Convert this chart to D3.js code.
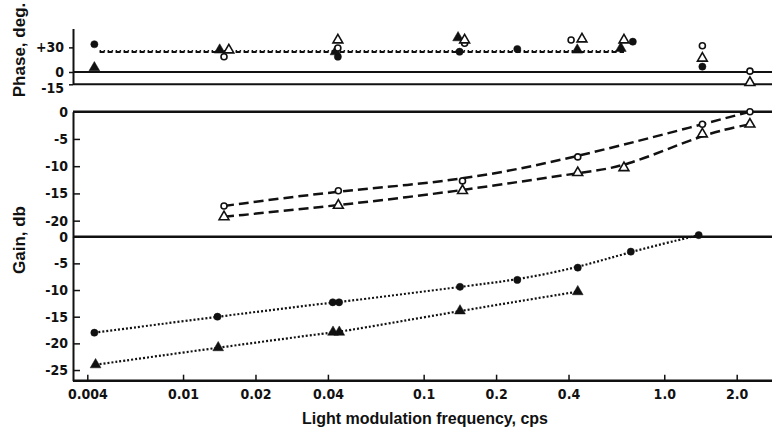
<!DOCTYPE html>
<html>
<head>
<meta charset="utf-8">
<script src="https://cdn.jsdelivr.net/npm/d3@7"></script>
<style>
  body { margin: 0; background: #fff; }
  svg { display: block; }
  .tick text { font-family: "Liberation Sans Narrow", "DejaVu Sans Condensed", sans-serif; font-weight: bold; font-size: 14px; fill: #111; }
  .title { font-family: "Liberation Sans", "DejaVu Sans", sans-serif; font-weight: bold; fill: #111; }
</style>
</head>
<body>
<div id="chart"></div>
<script>
var width = 772;
var height = 443;
var margin = {left: 73, right: 0};

// x axis
var freqTicks = [0.004, 0.01, 0.02, 0.04, 0.1, 0.2, 0.4, 1.0, 2.0];
var freqTickLabels = ["0.004", "0.01", "0.02", "0.04", "0.1", "0.2", "0.4", "1.0", "2.0"];

// phase panel
var phaseTicks = [30, 0, -15];
var phaseTickLabels = ["+30", "0", "-15"];
var phaseFilledCircleFreq = [0.00428, 0.044, 0.141, 0.245, 0.74, 1.44];
var phaseFilledCircleDeg = [33.8, 18.6, 24.7, 28, 36.9, 6.5];
var phaseFilledTriFreq = [0.00428, 0.0142, 0.043, 0.139, 0.435, 0.66];
var phaseFilledTriDeg = [5.2, 26.8, 24.7, 41.8, 26.8, 28.9];
var phaseOpenCircleFreq = [0.0148, 0.044, 0.148, 0.41, 1.44, 2.27];
var phaseOpenCircleDeg = [18.6, 29.2, 35, 39, 32, 1];
var phaseOpenTriFreq = [0.0155, 0.044, 0.148, 0.455, 0.68, 1.44, 2.27];
var phaseOpenTriDeg = [26.8, 39, 39, 40.2, 39, 16.7, -13];
var phaseMeanFreq = [0.0045, 0.68];
var phaseMeanDashed = [24.5, 24.5];
var phaseMeanDotted = [26, 26];

// gain panel, open symbols
var gainTicksUpper = [0, -5, -10, -15, -20];
var gainTickLabelsUpper = ["0", "-5", "-10", "-15", "-20"];
var gainOpenCircleFreq = [0.0148, 0.0442, 0.145, 0.437, 1.44, 2.27];
var gainOpenCircleDb = [-17.3, -14.5, -12.7, -8.3, -2.3, 0];
var gainOpenTriFreq = [0.0148, 0.0442, 0.145, 0.437, 0.68, 1.44, 2.27];
var gainOpenTriDb = [-19.3, -17.2, -14.5, -11.2, -10.3, -4.1, -2.3];

// gain panel, filled symbols
var gainTicksLower = [0, -5, -10, -15, -20, -25];
var gainTickLabelsLower = ["0", "-5", "-10", "-15", "-20", "-25"];
var gainFilledCircleFreq = [0.00428, 0.0139, 0.0419, 0.0445, 0.1416, 0.245, 0.437, 0.726, 1.39];
var gainFilledCircleDb = [-18.0, -15.0, -12.3, -12.3, -9.4, -8.1, -5.8, -2.8, 0.3];
var gainFilledTriFreq = [0.00433, 0.0140, 0.042, 0.0446, 0.1416, 0.437];
var gainFilledTriDb = [-24.0, -20.8, -17.9, -17.9, -13.9, -10.3];

var ink = "#111";

var svg = d3.select("#chart")
  .append("svg")
  .attr("width", width)
  .attr("height", height);

var x = d3.scaleLog().domain([0.004, 2.0]).range([87.3, 736.7]);
var yPhase = d3.scaleLinear().domain([-15, 53]).range([84.3, 28.5]);
var yUpper = d3.scaleLinear().domain([-23, 0]).range([237, 111.7]);
var yLower = d3.scaleLinear().domain([-27, 0]).range([380.7, 236.7]);

function zip(xs, ys) {
  return xs.map(function(v, i) { return [v, ys[i]]; });
}

function hline(y, w) {
  svg.append("line")
    .attr("x1", margin.left).attr("x2", width)
    .attr("y1", y).attr("y2", y)
    .attr("stroke", ink).attr("stroke-width", w || 2);
}

function yAxis(scale, ticks, labels, size) {
  var g = svg.append("g")
    .attr("transform", "translate(" + margin.left + ",0)")
    .call(d3.axisLeft(scale)
      .tickValues(ticks)
      .tickSizeInner(size)
      .tickSizeOuter(0)
      .tickPadding(5)
      .tickFormat(function(d, i) { return labels[i]; }));
  g.select(".domain").attr("stroke", ink).attr("stroke-width", 2);
  g.selectAll(".tick line").attr("stroke", ink).attr("stroke-width", 1.5);
  return g;
}

// panel frames
hline(yPhase(0));
hline(yPhase(-15));
hline(yUpper(0), 2.5);
hline(yLower(0), 2.5);
hline(yLower(-27), 2.5);

var gp = yAxis(yPhase, phaseTicks, phaseTickLabels, 4);
gp.selectAll(".tick text").attr("dy", function(d) { return d === -15 ? "0.6em" : "0.32em"; });
yAxis(yUpper, gainTicksUpper, gainTickLabelsUpper, -7);
yAxis(yLower, gainTicksLower, gainTickLabelsLower, -7);

// x axis
var gx = svg.append("g")
  .attr("transform", "translate(0," + yLower(-27) + ")")
  .call(d3.axisBottom(x)
    .tickValues(freqTicks)
    .tickSizeInner(-6)
    .tickSizeOuter(0)
    .tickPadding(8)
    .tickFormat(function(d, i) { return freqTickLabels[i]; }));
gx.select(".domain").remove();
gx.selectAll(".tick line").attr("stroke", ink).attr("stroke-width", 1.5);

// lines
function drawLine(xs, ys, yScale, dash, w, curve) {
  var line = d3.line()
    .x(function(d) { return x(d[0]); })
    .y(function(d) { return yScale(d[1]); })
    .curve(curve || d3.curveLinear);
  svg.append("path")
    .datum(zip(xs, ys))
    .attr("d", line)
    .attr("fill", "none")
    .attr("stroke", ink)
    .attr("stroke-width", w)
    .attr("stroke-dasharray", dash);
}

drawLine(phaseMeanFreq, phaseMeanDashed, yPhase, "5,3", 2);
drawLine(phaseMeanFreq, phaseMeanDotted, yPhase, "1.5,2.5", 1.5);

drawLine(gainOpenCircleFreq, gainOpenCircleDb, yUpper, "10,5", 2.5, d3.curveBasis);
drawLine(gainOpenTriFreq, gainOpenTriDb, yUpper, "10,5", 2.5, d3.curveBasis);

drawLine(gainFilledCircleFreq, gainFilledCircleDb, yLower, "2,2", 2.2, d3.curveBasis);
drawLine(gainFilledTriFreq, gainFilledTriDb, yLower, "2,2", 2.2, d3.curveBasis);

// markers
var tri = d3.symbol().type(d3.symbolTriangle);

function circles(xs, ys, yScale, filled) {
  svg.append("g").selectAll("circle")
    .data(zip(xs, ys))
    .join("circle")
    .attr("cx", function(d) { return x(d[0]); })
    .attr("cy", function(d) { return yScale(d[1]); })
    .attr("r", filled ? 3.6 : 3)
    .attr("fill", filled ? ink : "#fff")
    .attr("stroke", ink)
    .attr("stroke-width", filled ? 0.5 : 1.6);
}

function triangles(xs, ys, yScale, filled) {
  svg.append("g").selectAll("path")
    .data(zip(xs, ys))
    .join("path")
    .attr("transform", function(d) { return "translate(" + x(d[0]) + "," + yScale(d[1]) + ")"; })
    .attr("d", tri.size(filled ? 50 : 42)())
    .attr("fill", filled ? ink : "#fff")
    .attr("stroke", ink)
    .attr("stroke-width", filled ? 0.5 : 1.6);
}

circles(phaseFilledCircleFreq, phaseFilledCircleDeg, yPhase, true);
triangles(phaseFilledTriFreq, phaseFilledTriDeg, yPhase, true);
circles(phaseOpenCircleFreq, phaseOpenCircleDeg, yPhase, false);
triangles(phaseOpenTriFreq, phaseOpenTriDeg, yPhase, false);

circles(gainOpenCircleFreq, gainOpenCircleDb, yUpper, false);
triangles(gainOpenTriFreq, gainOpenTriDb, yUpper, false);

circles(gainFilledCircleFreq, gainFilledCircleDb, yLower, true);
triangles(gainFilledTriFreq, gainFilledTriDb, yLower, true);

// titles
svg.append("text")
  .attr("class", "title")
  .attr("transform", "translate(21,50) rotate(-90)")
  .attr("text-anchor", "middle")
  .attr("dominant-baseline", "middle")
  .attr("font-size", "17px")
  .text("Phase, deg.");

svg.append("text")
  .attr("class", "title")
  .attr("transform", "translate(21,240) rotate(-90)")
  .attr("text-anchor", "middle")
  .attr("dominant-baseline", "middle")
  .attr("font-size", "17px")
  .text("Gain, db");

svg.append("text")
  .attr("class", "title")
  .attr("x", 425)
  .attr("y", 420)
  .attr("text-anchor", "middle")
  .attr("dominant-baseline", "middle")
  .attr("font-size", "16px")
  .text("Light modulation frequency, cps");
</script>
</body>
</html>
